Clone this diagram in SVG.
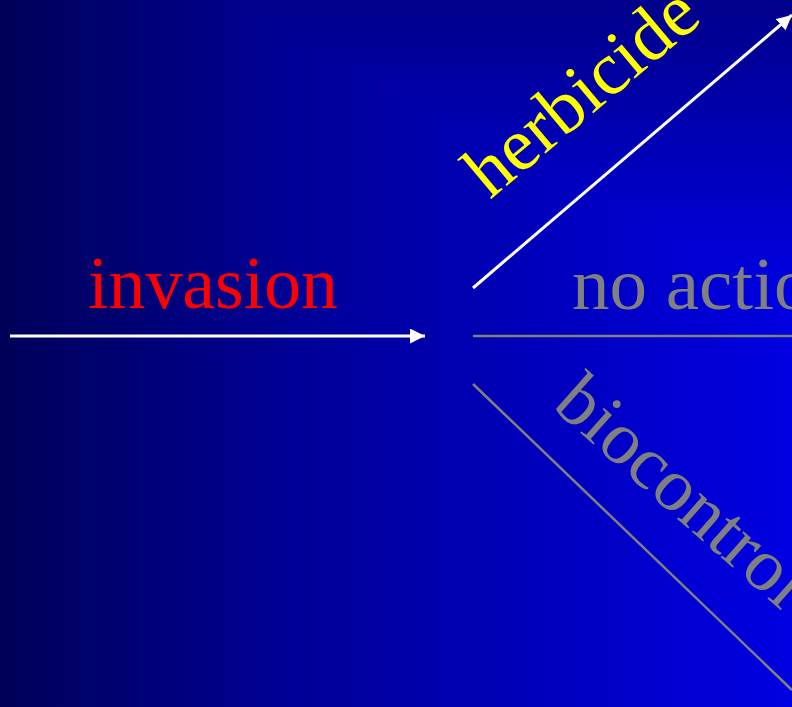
<svg xmlns="http://www.w3.org/2000/svg" width="792" height="707" viewBox="0 0 792 707">
<defs>
<linearGradient id="bgx" gradientUnits="userSpaceOnUse" x1="0" y1="0" x2="792" y2="0">
<stop offset="0" stop-color="#000058"/>
<stop offset="0.38" stop-color="#000098"/>
<stop offset="1" stop-color="#0000E2"/>
</linearGradient>
<linearGradient id="bgy" gradientUnits="userSpaceOnUse" x1="0" y1="0" x2="0" y2="300">
<stop offset="0" stop-color="#00008A"/>
<stop offset="1" stop-color="#0000E4"/>
</linearGradient>
<marker id="ah" viewBox="0 0 10 10" refX="10" refY="5" markerWidth="5" markerHeight="5" orient="auto" markerUnits="strokeWidth">
<path d="M0,0 L10,5 L0,10 z" fill="#FFFFFF"/>
</marker>
<style>
.lbl{font-family:"Liberation Serif","Times New Roman",serif;font-size:75px}
.w{stroke:#FFFFFF;stroke-width:3;fill:none}
.g{stroke:#808080;stroke-width:2.5;fill:none}
</style>
</defs>
<g id="background" style="isolation:isolate">
<rect width="792" height="707" fill="url(#bgx)"/>
<rect width="792" height="707" fill="url(#bgy)" style="mix-blend-mode:darken"/>
</g>
<g id="connectors">
<line class="w" x1="10" y1="336" x2="425" y2="336" marker-end="url(#ah)"/>
<line class="w" x1="473" y1="288" x2="792" y2="15" marker-end="url(#ah)"/>
<line class="g" x1="473" y1="336" x2="792" y2="336"/>
<line class="g" x1="473" y1="384" x2="792" y2="690"/>
</g>
<g id="invasion"><text class="lbl" x="88" y="308" fill="#FF0000" textLength="250" lengthAdjust="spacingAndGlyphs">invasion</text></g>
<g id="herbicide"><text class="lbl" fill="#FFFF00" transform="translate(490,200) rotate(-40)">herbicide</text></g>
<g id="no-action"><text class="lbl" x="572" y="309" fill="#808080">no action</text></g>
<g id="biocontrol"><text class="lbl" fill="#808080" transform="translate(551,407) rotate(41.5)">biocontrol</text></g>
</svg>
